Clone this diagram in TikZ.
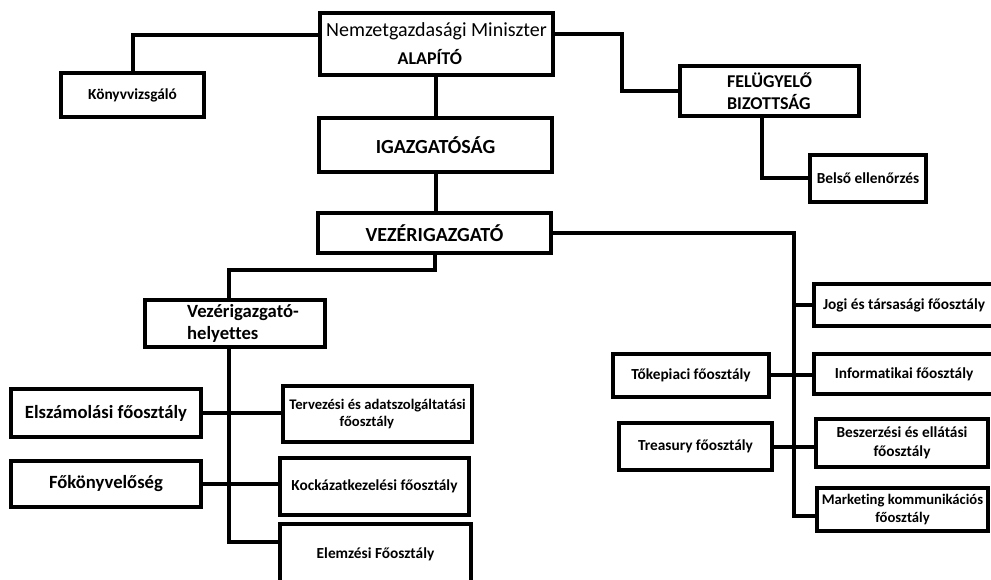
\documentclass[tikz,border=0pt]{standalone}
\usepackage{fontspec}
\setmainfont{Carlito}[Ligatures=CommonOff]
\usetikzlibrary{calc}

\begin{document}
\begin{tikzpicture}[x=0.75pt,y=0.75pt,yscale=-1,xscale=1,
  box/.style={draw, line width=3pt, inner sep=1pt, align=center, font=\bfseries\fontsize{11.5}{14}\selectfont},
  big/.style={box, font=\bfseries\fontsize{14}{17}\selectfont},
  wh/.style 2 args={minimum width=#1*0.75pt, minimum height=#2*0.75pt},
  link/.style={line width=3pt}]
              \useasboundingbox (0,0) rectangle (991,580);
              \node[box, wh={233}{62}, font=\fontsize{15}{21}\selectfont] (min) at (436.5,44) {Nemzetgazdasági Miniszter\\{\bfseries\fontsize{13.5}{21}\selectfont ALAPÍTÓ}\hspace*{10pt}};
              \node[box, wh={143}{44}] (konyv) at (132.5,95) {Könyvvizsgáló};
              \node[box, wh={233}{54}, font=\bfseries\fontsize{15}{18}\selectfont] (igaz) at (435.5,145) {IGAZGATÓSÁG};
              \node[box, wh={233}{40}, font=\bfseries\fontsize{15}{18}\selectfont] (vez) at (434.5,233) {VEZÉRIGAZGATÓ};
              \node[box, wh={179}{50}, align=left, font=\bfseries\fontsize{13.5}{17}\selectfont] (felugy) at (769.5,91) {FELÜGYELŐ\\BIZOTTSÁG};
              \node[box, wh={116}{47}] (belso) at (868,178.5) {Belső ellenőrzés};
              \node[big, wh={180}{47}, align=left] (vh) at (235,323.5) {\hspace*{12pt}Vezérigazgató-\\\hspace*{12pt}helyettes};
              \node[big, wh={190}{48}] (elsz) at (106,413) {Elszámolási főosztály};
              \node[big, wh={190}{46}] (foko) at (106,484) {Főkönyvelőség};
              \node[box, wh={189}{56}, inner sep=0pt, font=\bfseries\fontsize{11}{13}\selectfont] (terv) at (377.5,414) {Tervezési és adatszolgáltatási\\főosztály\hspace*{16pt}};
              \node[box, wh={189}{57}] (kock) at (374.5,486.5) {Kockázatkezelési főosztály};
              \node[box, wh={191}{60}] (elem) at (375.5,554) {Elemzési Főosztály};
              \node[box, wh={180}{42}] (jogi) at (904,305) {Jogi és társasági főosztály};
              \node[box, wh={180}{40}] (info) at (904,374) {Informatikai főosztály};
              \node[box, wh={172}{48}] (besz) at (902,443) {Beszerzési és ellátási\\főosztály};
              \node[box, wh={171}{43}, inner sep=0pt, font=\bfseries\fontsize{11}{14}\selectfont] (mark) at (902.5,509.5) {Marketing kommunikációs\\főosztály};
              \node[box, wh={156}{43}] (toke) at (691,375.5) {Tőkepiaci főosztály};
              \node[box, wh={153}{47}] (treas) at (695.5,446.5) {Treasury főosztály};
              \draw[link] (min.west) ++(0,-9) -| (konyv.north);
              \draw[link] (min.east) ++(0,-10) -- ++(67,0) |- (felugy.west);
              \draw[link] (igaz.north |- min.south) -- (igaz.north);
              \draw[link] (igaz.south) -- (igaz.south |- vez.north);
              \draw[link] (felugy.south) ++(-8,0) |- (belso.west);
              \draw[link] (vez.south) -- ++(0,15) -| ($(vh.north)+(-6,0)$);
              \draw[link] ($(vh.south)+(-6,0)$) |- ($(elem.west)+(0,-12)$);
              \draw[link] (elsz.east) -- (elsz.east -| terv.west);
              \draw[link] (foko.east) -- (foko.east -| kock.west);
              \draw[link] (vez.east) -- ++(241,0) coordinate (rtrunk) |- ($(mark.west)+(0,6)$);
              \draw[link] (jogi.west) -- (jogi.west -| rtrunk);
              \draw[link] (toke.east) -- (toke.east -| info.west);
              \draw[link] (treas.east) -- (treas.east -| besz.west);
            \end{tikzpicture}
\end{document}
